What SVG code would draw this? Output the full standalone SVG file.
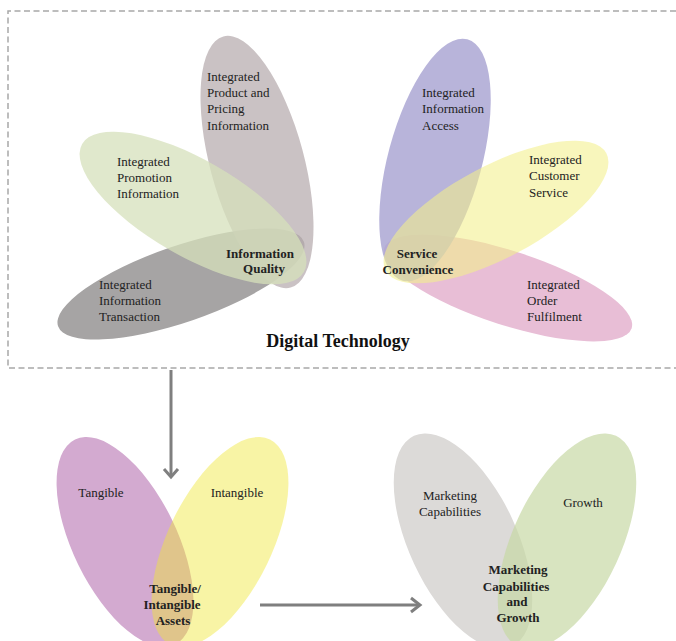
<svg xmlns="http://www.w3.org/2000/svg" width="676" height="641" viewBox="0 0 676 641">
  <style>
    text { font-family: "Liberation Serif", "Times New Roman", serif; font-size: 13px; fill: #222; }
    .b { font-weight: bold; }
    .c { text-anchor: middle; }
    .title { font-size: 18px; font-weight: bold; text-anchor: middle; fill: #111; }
    .frame { fill: none; stroke: #a8a8a8; stroke-width: 1.5; stroke-dasharray: 6 3.5; }
    .conn { fill: none; stroke: #7f7f7f; stroke-width: 3; }
    .head { fill: none; stroke: #7f7f7f; stroke-width: 3; stroke-linejoin: miter; }
  </style>

  <rect width="676" height="641" fill="#ffffff"/>

  <!-- dashed frame, open on the right -->
  <path class="frame" d="M676,11 H8 V368 H676"/>

  <!-- Information Quality cluster -->
  <g id="information-quality">
    <ellipse id="petal-transaction" cx="181" cy="284" rx="130" ry="38" transform="rotate(-19 181 284)" fill="#a6a4a4"/>
    <ellipse id="petal-pricing" cx="257" cy="162" rx="47" ry="130" transform="rotate(-15 257 162)" fill="#b8aeb0" fill-opacity="0.75"/>
    <ellipse id="petal-promotion" cx="193" cy="208" rx="128" ry="48" transform="rotate(30 193 208)" fill="#d6e0bb" fill-opacity="0.75"/>
    <text x="207" y="81">Integrated</text>
    <text x="207" y="97">Product and</text>
    <text x="207" y="113">Pricing</text>
    <text x="207" y="130">Information</text>
    <text x="117" y="166">Integrated</text>
    <text x="117" y="182">Promotion</text>
    <text x="117" y="198">Information</text>
    <text x="99" y="289">Integrated</text>
    <text x="99" y="305">Information</text>
    <text x="99" y="321">Transaction</text>
    <text class="b c" x="260" y="258">Information</text>
    <text class="b c" x="264" y="273">Quality</text>
  </g>

  <!-- Service Convenience cluster -->
  <g id="service-convenience">
    <ellipse id="petal-fulfilment" cx="508" cy="288" rx="130" ry="37" transform="rotate(18 508 288)" fill="#e8bed6"/>
    <ellipse id="petal-access" cx="435" cy="160" rx="47" ry="125" transform="rotate(15 435 160)" fill="#aba7d3" fill-opacity="0.85"/>
    <ellipse id="petal-customer" cx="496" cy="212" rx="125" ry="46" transform="rotate(-28 496 212)" fill="#f3f08c" fill-opacity="0.58"/>
    <text x="422" y="97">Integrated</text>
    <text x="422" y="113">Information</text>
    <text x="422" y="130">Access</text>
    <text x="529" y="164">Integrated</text>
    <text x="529" y="180">Customer</text>
    <text x="529" y="197">Service</text>
    <text x="527" y="289">Integrated</text>
    <text x="527" y="305">Order</text>
    <text x="527" y="321">Fulfilment</text>
    <text class="b c" x="417" y="258">Service</text>
    <text class="b c" x="418" y="274">Convenience</text>
  </g>

  <g id="digital-technology">
    <text class="title" x="338" y="347">Digital Technology</text>
  </g>

  <!-- Tangible / Intangible assets -->
  <g id="assets">
    <ellipse id="tangible" cx="125" cy="542" rx="52" ry="114" transform="rotate(-26 125 542)" fill="#d3aad0"/>
    <ellipse id="intangible" cx="220" cy="542" rx="52" ry="114" transform="rotate(26 220 542)" fill="#efe637" fill-opacity="0.45"/>
    <text class="c" x="101" y="497">Tangible</text>
    <text class="c" x="237" y="497">Intangible</text>
    <text class="b c" x="175" y="593">Tangible/</text>
    <text class="b c" x="172" y="609">Intangible</text>
    <text class="b c" x="173" y="625">Assets</text>
  </g>

  <!-- Marketing capabilities and growth -->
  <g id="capabilities-growth">
    <ellipse id="marketing" cx="463" cy="541" rx="54" ry="116" transform="rotate(-25 463 541)" fill="#dcdad8"/>
    <ellipse id="growth" cx="567" cy="541" rx="54" ry="116" transform="rotate(25 567 541)" fill="#c7d8a4" fill-opacity="0.69"/>
    <text class="c" x="450" y="500">Marketing</text>
    <text class="c" x="450" y="516">Capabilities</text>
    <text class="c" x="583" y="507">Growth</text>
    <text class="b c" x="518" y="574">Marketing</text>
    <text class="b c" x="516" y="591">Capabilities</text>
    <text class="b c" x="517" y="606">and</text>
    <text class="b c" x="518" y="622">Growth</text>
  </g>

  <!-- connectors -->
  <g id="connectors">
    <line class="conn" x1="171" y1="370" x2="171" y2="477"/>
    <polyline class="head" points="164,469 171,477 178,469"/>
    <line class="conn" x1="260" y1="605" x2="420" y2="605"/>
    <polyline class="head" points="411,598 420,605 411,612"/>
  </g>
</svg>
